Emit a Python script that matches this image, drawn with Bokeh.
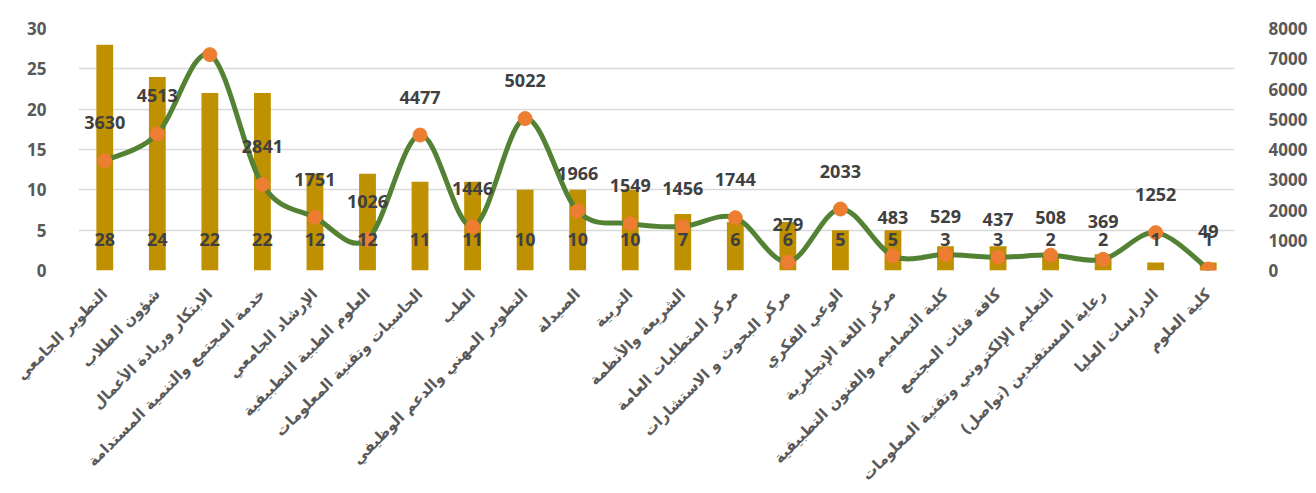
import math
from bokeh.plotting import figure
from bokeh.models import Range1d, LinearAxis, FixedTicker, SingleIntervalTicker
from bokeh.core.properties import value
from bokeh.embed import file_html
from bokeh.resources import INLINE

categories = [
    "التطوير الجامعي",
    "شؤون الطلاب",
    "الابتكار وريادة الأعمال",
    "خدمة المجتمع والتنمية المستدامة",
    "الإرشاد الجامعي",
    "العلوم الطبية التطبيقية",
    "الحاسبات وتقنية المعلومات",
    "الطب",
    "التطوير المهني والدعم الوظيفي",
    "الصيدلة",
    "التربية",
    "الشريعة والأنظمة",
    "مركز المتطلبات العامة",
    "مركز البحوث و الاستشارات",
    "الوعي الفكري",
    "مركز اللغة الإنجليزية",
    "كلية التصاميم والفنون التطبيقية",
    "كافة فئات المجتمع",
    "التعليم الإلكتروني وتقنية المعلومات",
    "رعاية المستفيدين (تواصل)",
    "الدراسات العليا",
    "كلية العلوم",
]
bar_values = [28, 24, 22, 22, 12, 12, 11, 11, 10, 10, 10, 7, 6, 6, 5, 5, 3, 3, 2, 2, 1, 1]
line_values = [3630, 4513, 7135, 2841, 1751, 1026, 4477, 1446, 5022, 1966, 1549, 1456,
               1744, 279, 2033, 483, 529, 437, 508, 369, 1252, 49]

n = len(categories)
xs = list(range(n))

BAR = "#BF9000"
LINE = "#548235"
MARK = "#ED7D31"
AXIS_TXT = "#595959"
LBL_TXT = "#404040"
NUM_FONT = "Open Sans"
AR_FONT = "DejaVu Sans"

p = figure(width=1316, height=493, output_backend="svg", toolbar_location=None,
           x_range=Range1d(-0.5, n - 0.5), y_range=Range1d(0, 30),
           min_border_left=78, min_border_right=82, min_border_top=28, min_border_bottom=220)
p.extra_y_ranges = {"r": Range1d(0, 8000)}
p.outline_line_color = None
p.background_fill_color = "white"
p.border_fill_color = "white"

p.xgrid.grid_line_color = None
p.ygrid.grid_line_color = "#D9D9D9"
p.ygrid.grid_line_width = 1.3
p.yaxis.ticker = SingleIntervalTicker(interval=5)

# bars
p.vbar(x=xs, top=bar_values, width=0.32, fill_color=BAR, line_color=None)

# smooth line (Catmull-Rom style bezier through the series points)
x0, y0, x1, y1, cx0, cy0, cx1, cy1 = [], [], [], [], [], [], [], []
for i in range(n - 1):
    pm = i - 1 if i > 0 else i
    pp = i + 2 if i + 2 < n else i + 1
    x0.append(xs[i]); y0.append(line_values[i])
    x1.append(xs[i + 1]); y1.append(line_values[i + 1])
    cx0.append(xs[i] + (xs[i + 1] - xs[pm]) / 6.0)
    cy0.append(line_values[i] + (line_values[i + 1] - line_values[pm]) / 6.0)
    cx1.append(xs[i + 1] - (xs[pp] - xs[i]) / 6.0)
    cy1.append(line_values[i + 1] - (line_values[pp] - line_values[i]) / 6.0)
p.bezier(x0=x0, y0=y0, x1=x1, y1=y1, cx0=cx0, cy0=cy0, cx1=cx1, cy1=cy1,
         y_range_name="r", line_color=LINE, line_width=5, line_cap="round")
p.scatter(xs, line_values, y_range_name="r", size=14, fill_color=MARK, line_color=MARK)

# labels
p.text(xs, [0] * n, text=[str(v) for v in bar_values], y_offset=-31,
       text_align="center", text_baseline="middle", text_color=LBL_TXT,
       text_font=value(NUM_FONT), text_font_size="18px", text_font_style="bold")
p.text(xs, line_values, text=[str(v) for v in line_values], y_offset=-38, y_range_name="r",
       text_align="center", text_baseline="middle", text_color=LBL_TXT,
       text_font=value(NUM_FONT), text_font_size="18px", text_font_style="bold")

# axes
for ax in [p.yaxis[0]]:
    ax.axis_line_color = None
    ax.major_tick_line_color = None
    ax.minor_tick_line_color = None
    ax.major_label_standoff = 26
    ax.major_label_text_color = AXIS_TXT
    ax.major_label_text_font = NUM_FONT
    ax.major_label_text_font_size = "17px"
    ax.major_label_text_font_style = "bold"

ra = LinearAxis(y_range_name="r", ticker=SingleIntervalTicker(interval=1000))
ra.axis_line_color = None
ra.major_tick_line_color = None
ra.minor_tick_line_color = None
ra.major_label_standoff = 28
ra.major_label_text_color = AXIS_TXT
ra.major_label_text_font = NUM_FONT
ra.major_label_text_font_size = "17px"
ra.major_label_text_font_style = "bold"
p.add_layout(ra, "right")

xa = p.xaxis[0]
xa.ticker = FixedTicker(ticks=xs)
xa.major_label_overrides = {i: c for i, c in enumerate(categories)}
xa.major_label_orientation = math.pi / 4
xa.axis_line_color = None
xa.major_tick_line_color = None
xa.minor_tick_line_color = None
xa.major_label_standoff = 15
xa.major_label_text_color = AXIS_TXT
xa.major_label_text_font = AR_FONT
xa.major_label_text_font_size = "15px"
xa.major_label_text_font_style = "bold"

open("out.html", "w").write(file_html(p, INLINE))
